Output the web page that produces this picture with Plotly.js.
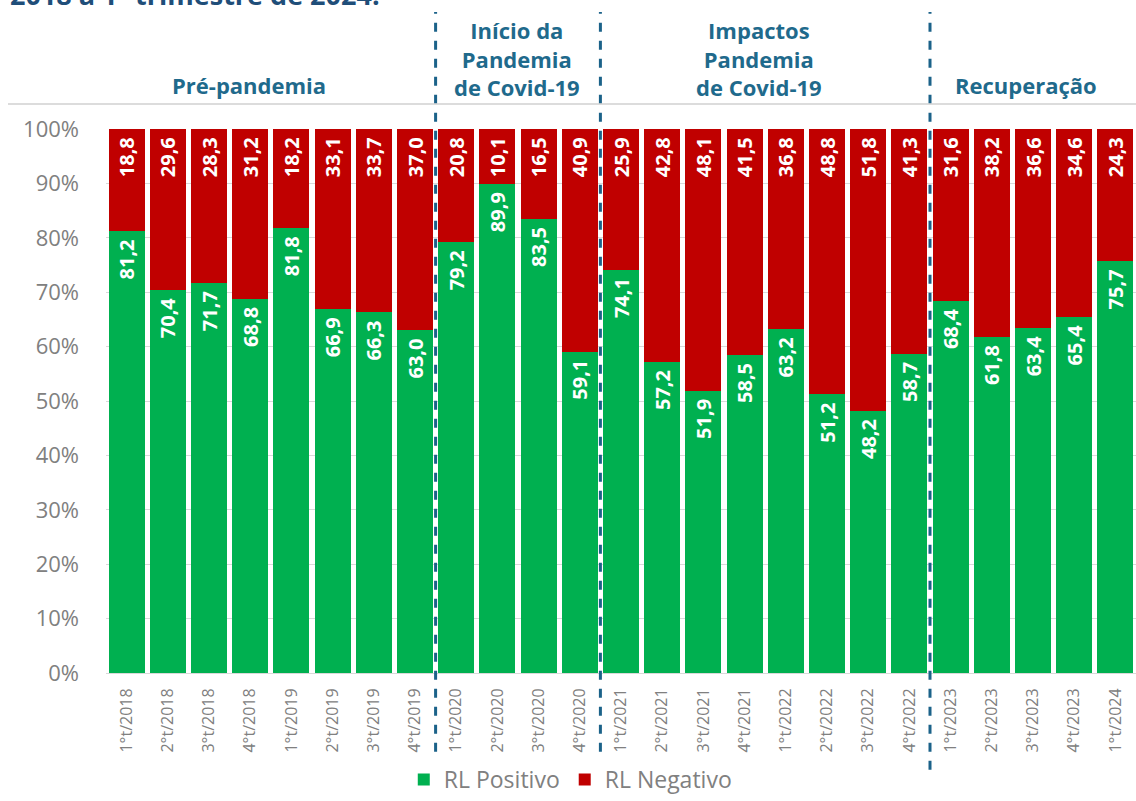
<!DOCTYPE html>
<html><head><meta charset="utf-8">
<script src="https://cdn.plot.ly/plotly-3.0.1.min.js"></script>
<style>html,body{margin:0;padding:0;background:#fff}#chart{width:1136px;height:801px}</style>
</head><body><div id="chart"></div>
<script>
const categories = ["1°t/2018","2°t/2018","3°t/2018","4°t/2018","1°t/2019","2°t/2019","3°t/2019","4°t/2019",
  "1°t/2020","2°t/2020","3°t/2020","4°t/2020","1°t/2021","2°t/2021","3°t/2021","4°t/2021",
  "1°t/2022","2°t/2022","3°t/2022","4°t/2022","1°t/2023","2°t/2023","3°t/2023","4°t/2023","1°t/2024"];
const rlPositivo = [81.2,70.4,71.7,68.8,81.8,66.9,66.3,63.0,79.2,89.9,83.5,59.1,74.1,57.2,51.9,58.5,63.2,51.2,48.2,58.7,68.4,61.8,63.4,65.4,75.7];
const rlNegativo = [18.8,29.6,28.3,31.2,18.2,33.1,33.7,37.0,20.8,10.1,16.5,40.9,25.9,42.8,48.1,41.5,36.8,48.8,51.8,41.3,31.6,38.2,36.6,34.6,24.3];
const yTicks = [0,10,20,30,40,50,60,70,80,90,100];
const yTickLabels = ["0%","10%","20%","30%","40%","50%","60%","70%","80%","90%","100%"];
const periodLabels = ["Pré-pandemia","Início da<br>Pandemia<br>de Covid-19","Impactos<br>Pandemia<br>de Covid-19","Recuperação"];
const periodCenters = [2.96, 9.47, 15.36, 21.84];
const periodBreaks = [7.5, 11.5, 19.5];

const fmt = v => v.toFixed(1).replace('.', ',') + '\u00a0';
const FONT = "Open Sans, Noto Sans, sans-serif";
const textFont = {family: FONT, size: 20, color: "#ffffff", weight: 700};

const traces = [
  {type:'bar', name:'RL Positivo', x:categories, y:rlPositivo, marker:{color:'#00b050'},
   text: rlPositivo.map(fmt), textposition:'inside', insidetextanchor:'end', textangle:-90,
   textfont:textFont, hoverinfo:'skip', constraintext:'none'},
  {type:'bar', name:'RL Negativo', x:categories, y:rlNegativo, marker:{color:'#c00000'},
   text: rlNegativo.map(fmt), textposition:'inside', insidetextanchor:'end', textangle:-90,
   textfont:textFont, hoverinfo:'skip', constraintext:'none'}
];

const labelColor = '#1f6a8c';
const annotations = periodLabels.map((t,i)=>({
  text:'<b>'+t+'</b>', xref:'x', yref:'paper', x:periodCenters[i], y: i===0||i===3 ? 1.081 : 1.1305,
  xanchor:'center', yanchor:'middle', showarrow:false,
  font:{family:FONT, size:22, color:labelColor}
}));
annotations.push({
  text:'<b>2018 a 1º trimestre de 2024.</b>', xref:'paper', yref:'paper',
  x:(8-106)/1030, y:1.209, xanchor:'left', yanchor:'bottom', showarrow:false,
  font:{family:FONT, size:27, color:'#1f4e79'}
});

const shapes = periodBreaks.map(b=>({
  type:'line', xref:'x', yref:'paper', x0:b, x1:b, y0:-0.178, y1:1.215,
  line:{color:'#1b6289', width:3, dash:'dash'}
}));
shapes.push({type:'line', xref:'paper', yref:'paper', x0:(8-106)/1030, x1:1, y0:1.046, y1:1.046,
  line:{color:'#d0d0d0', width:1.5}});

const layout = {
  width:1136, height:801, barmode:'stack', bargap:0.13,
  margin:{l:106, r:0, t:129, b:128},
  paper_bgcolor:'#ffffff', plot_bgcolor:'#ffffff',
  font:{family:FONT, color:'#808080'},
  xaxis:{type:'category', tickangle:-90, tickfont:{family:FONT, size:16, color:'#808080'},
    showgrid:false, showline:true, linecolor:'#d9d9d9', ticks:'', automargin:false, ticklabelstandoff:8},
  yaxis:{range:[0,100], tickvals:yTicks, ticktext:yTickLabels, tickfont:{family:FONT, size:22, color:'#808080'},
    showgrid:true, gridcolor:'#d9d9d9', zeroline:false, showline:false, ticklabelstandoff:26, automargin:false},
  legend:{orientation:'h', xref:'container', yref:'container', x:0.502, xanchor:'center', y:0, yanchor:'bottom',
    font:{family:FONT, size:23, color:'#808080'}, traceorder:'normal', itemwidth:30},
  annotations, shapes, showlegend:true
};
Plotly.newPlot('chart', traces, layout, {displayModeBar:false, staticPlot:true});
</script></body></html>
